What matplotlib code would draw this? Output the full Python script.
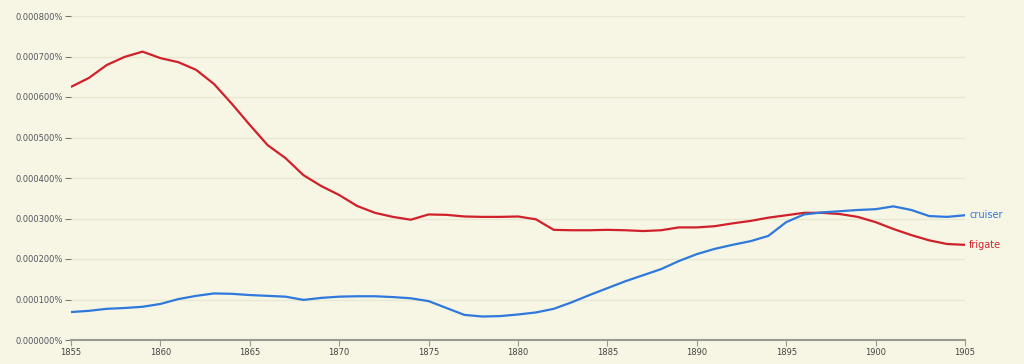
import matplotlib
matplotlib.use("Agg")
import matplotlib.pyplot as plt
from matplotlib.ticker import FuncFormatter

years = list(range(1855, 1906))
frigate = [6.25, 6.47, 6.79, 6.99, 7.12, 6.96, 6.86, 6.67, 6.32, 5.83,
           5.31, 4.81, 4.49, 4.07, 3.80, 3.58, 3.31, 3.14, 3.04, 2.97,
           3.10, 3.09, 3.05, 3.04, 3.04, 3.05, 2.98, 2.72, 2.71, 2.71,
           2.72, 2.71, 2.69, 2.71, 2.78, 2.78, 2.81, 2.88, 2.94, 3.02,
           3.08, 3.14, 3.14, 3.11, 3.04, 2.91, 2.74, 2.59, 2.46, 2.37, 2.35]
cruiser = [0.69, 0.72, 0.77, 0.79, 0.82, 0.89, 1.01, 1.09, 1.15, 1.14,
           1.11, 1.09, 1.07, 0.99, 1.04, 1.07, 1.08, 1.08, 1.06, 1.03,
           0.96, 0.79, 0.62, 0.58, 0.59, 0.63, 0.68, 0.77, 0.93, 1.11,
           1.28, 1.45, 1.60, 1.75, 1.95, 2.12, 2.25, 2.35, 2.44, 2.57,
           2.91, 3.10, 3.15, 3.18, 3.21, 3.23, 3.30, 3.21, 3.06, 3.04, 3.08]
scale = 1e-4  # values above are in units of 0.0001 %
yticks = [0, 1, 2, 3, 4, 5, 6, 7, 8]
xticks = list(range(1855, 1906, 5))

bg = "#f7f6e4"
red = "#d0202a"
blue = "#2f78dc"

fig = plt.figure(figsize=(10.24, 3.64), dpi=100, facecolor=bg)
ax = fig.add_axes([71/1024, 1-340/364, (965-71)/1024, (340-16)/364])
ax.set_facecolor(bg)

ax.plot(years, [v*scale for v in frigate], color=red, lw=1.6, solid_capstyle="round")
ax.plot(years, [v*scale for v in cruiser], color=blue, lw=1.6, solid_capstyle="round")

ax.set_xlim(1855, 1905)
ax.set_ylim(0, 8*scale)
ax.set_yticks([t*scale for t in yticks])
ax.set_xticks(xticks)
ax.yaxis.set_major_formatter(FuncFormatter(lambda v, p: f"{v:.6f}%"))
ax.grid(axis="y", color="#e8e7d2", lw=1)
ax.set_axisbelow(True)

for s in ["top", "right", "left"]:
    ax.spines[s].set_visible(False)
ax.spines["bottom"].set_color("#9a9a90")
ax.spines["bottom"].set_linewidth(1.5)
ax.tick_params(axis="y", length=4, color="#777777", labelsize=6, labelcolor="#555560", pad=2)
ax.tick_params(axis="x", length=4, color="#9a9a90", labelsize=6, labelcolor="#444444", pad=2)

ax.annotate("cruiser", xy=(1905, cruiser[-1]*scale), xytext=(3, 0), textcoords="offset points",
            va="center", ha="left", fontsize=7, color=blue, annotation_clip=False)
ax.annotate("frigate", xy=(1905, frigate[-1]*scale), xytext=(3, 0), textcoords="offset points",
            va="center", ha="left", fontsize=7, color=red, annotation_clip=False)

fig.savefig("out.png", dpi=100, facecolor=bg)
